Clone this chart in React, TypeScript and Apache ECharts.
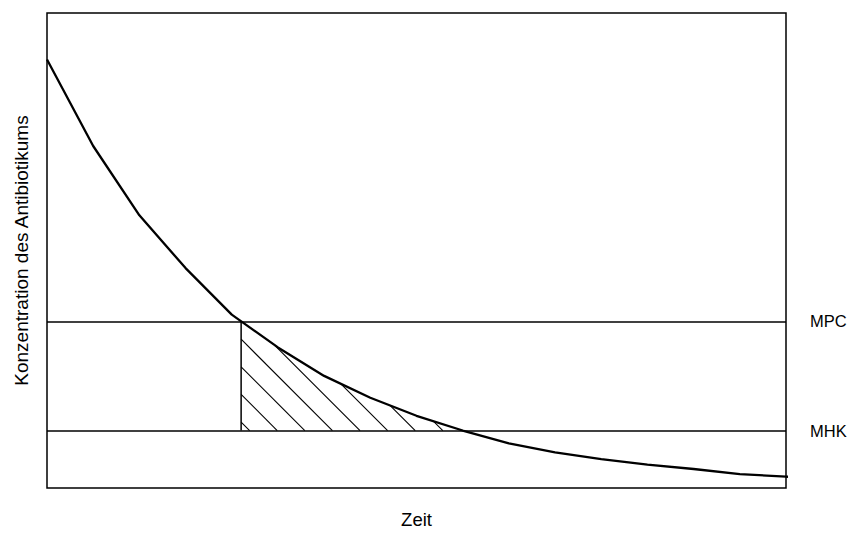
import React, { useEffect, useRef } from "react";
import * as echarts from "echarts";

// Time (arbitrary units) and antibiotic concentration (% of axis height)
const times = [0, 1, 2, 3, 4, 5, 6, 7, 8, 9, 10, 11, 12, 13, 14, 15, 16, 16.08];
const concentration = [90.2, 72.0, 57.4, 46.3, 36.5, 29.6, 23.6, 19.0, 15.2, 12.1, 9.4, 7.5, 6.1, 4.9, 4.0, 2.9, 2.4, 2.35];
const MPC = 35.1;
const MHK = 12.1;
const thresholdNames = ["MPC", "MHK"];
const xAxisName = "Zeit";
const yAxisName = "Konzentration des Antibiotikums";

const FONT = "'Liberation Sans', Arial, Helvetica, sans-serif";
const HATCH_SPACING = 27.6;
const HATCH_OFFSET = 8.5;

function crossingTime(level: number): number {
  for (let i = 0; i < times.length - 1; i++) {
    const a = concentration[i];
    const b = concentration[i + 1];
    if (a >= level && b <= level) {
      return times[i] + ((a - level) / (a - b)) * (times[i + 1] - times[i]);
    }
  }
  return times[times.length - 1];
}

export default function App() {
  const ref = useRef<HTMLDivElement>(null);

  useEffect(() => {
    if (!ref.current) return;
    const chart = echarts.init(ref.current, null, { renderer: "svg" });
    const curveData = times.map((t, i) => [t, concentration[i]]);
    const tStart = crossingTime(MPC);
    const tEnd = crossingTime(MHK);

    const renderHatch = (_params: any, api: any) => {
      const pts = curveData.map((d) => api.coord(d));
      const yMPC = api.coord([0, MPC])[1];
      const yMHK = api.coord([0, MHK])[1];
      const xv = api.coord([tStart, MPC])[0];
      const xe = api.coord([tEnd, MHK])[0];
      const curveY = (x: number) => {
        for (let i = 0; i < pts.length - 1; i++) {
          if (x >= pts[i][0] && x <= pts[i + 1][0]) {
            const f = (x - pts[i][0]) / (pts[i + 1][0] - pts[i][0]);
            return pts[i][1] + f * (pts[i + 1][1] - pts[i][1]);
          }
        }
        return pts[pts.length - 1][1];
      };
      const children: any[] = [
        {
          type: "line",
          shape: { x1: xv, y1: yMPC, x2: xv, y2: yMHK },
          style: { stroke: "#000", lineWidth: 1.5 },
        },
      ];
      for (let xm = xv + HATCH_OFFSET; xm < xe; xm += HATCH_SPACING) {
        let sx = xm;
        let sy = yMHK;
        for (let s = 0; s < 400; s += 0.25) {
          const x = xm - s;
          const y = yMHK - s;
          if (x <= xv) {
            sx = xv;
            sy = yMHK - (xm - xv);
            break;
          }
          if (y <= curveY(x)) {
            sx = x;
            sy = y;
            break;
          }
          sx = x;
          sy = y;
        }
        children.push({
          type: "line",
          shape: { x1: sx, y1: sy, x2: xm, y2: yMHK },
          style: { stroke: "#000", lineWidth: 1.1 },
        });
      }
      return { type: "group", children };
    };

    chart.setOption({
      animation: false,
      backgroundColor: "#fff",
      grid: {
        left: 47,
        top: 13,
        right: 66,
        bottom: 42,
        show: true,
        borderColor: "#000",
        borderWidth: 1.5,
        backgroundColor: "transparent",
      },
      xAxis: {
        type: "value",
        min: 0,
        max: 16,
        name: xAxisName,
        nameLocation: "middle",
        nameGap: 22,
        nameTextStyle: { color: "#000", fontSize: 18.5, fontFamily: FONT },
        axisLine: { show: false },
        axisTick: { show: false },
        axisLabel: { show: false },
        splitLine: { show: false },
      },
      yAxis: {
        type: "value",
        min: 0,
        max: 100,
        name: yAxisName,
        nameLocation: "middle",
        nameGap: 16,
        nameTextStyle: { color: "#000", fontSize: 19, fontFamily: FONT },
        axisLine: { show: false },
        axisTick: { show: false },
        axisLabel: { show: false },
        splitLine: { show: false },
      },
      series: [
        {
          type: "line",
          data: curveData,
          symbol: "none",
          clip: false,
          lineStyle: { color: "#000", width: 2.3 },
          z: 3,
          markLine: {
            silent: true,
            symbol: "none",
            lineStyle: { color: "#000", width: 1.5, type: "solid" },
            label: {
              show: true,
              position: "end",
              distance: 24,
              formatter: "{b}",
              color: "#000",
              fontSize: 16.5,
              fontFamily: FONT,
            },
            data: [
              { name: thresholdNames[0], yAxis: MPC },
              { name: thresholdNames[1], yAxis: MHK },
            ],
          },
        },
        {
          type: "custom",
          coordinateSystem: "cartesian2d",
          data: [[tStart, MHK]],
          renderItem: renderHatch,
          silent: true,
          clip: false,
          z: 2,
        },
      ],
    });
    return () => chart.dispose();
  }, []);

  return (
    <div
      ref={ref}
      style={{ position: "fixed", left: 0, top: 0, width: 852, height: 534 }}
    />
  );
}
